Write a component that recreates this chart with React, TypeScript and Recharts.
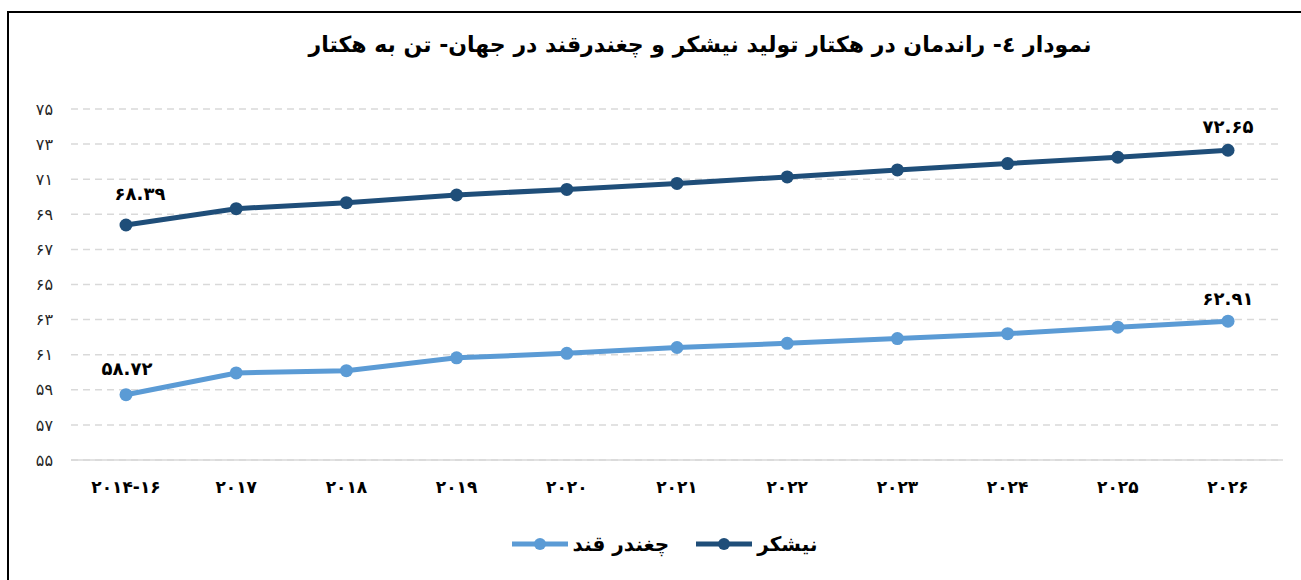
import React from 'react';
import { LineChart, Line, XAxis, YAxis, CartesianGrid, LabelList } from 'recharts';

const categories = ['2014-16', '2017', '2018', '2019', '2020', '2021', '2022', '2023', '2024', '2025', '2026'];
const sugarcane = [68.39, 69.32, 69.66, 70.1, 70.42, 70.76, 71.13, 71.53, 71.89, 72.25, 72.65];
const sugarbeet = [58.72, 59.96, 60.09, 60.82, 61.08, 61.41, 61.65, 61.92, 62.2, 62.57, 62.91];
const yTicks = [55, 57, 59, 61, 63, 65, 67, 69, 71, 73, 75];
const seriesNames = { cane: 'نیشکر', beet: 'چغندر قند' };
const title = 'نمودار ٤- راندمان در هکتار تولید نیشکر و چغندرقند در جهان- تن به هکتار';

const data = categories.map((c, i) => ({ cat: c, cane: sugarcane[i], beet: sugarbeet[i] }));

const FA = '۰۱۲۳۴۵۶۷۸۹';
const toFa = (v: string | number) => String(v).replace(/[0-9]/g, (d) => FA[Number(d)]);

const DARK = '#1f4e79';
const LIGHT = '#5b9bd5';
const FONT = 'DejaVu Sans';

const makeLabel = (dxFirst: number, dyFirst: number, dyLast: number) => (props: any) => {
  const { x, y, value, index } = props;
  const last = categories.length - 1;
  if (index !== 0 && index !== last) return null;
  const dx = index === 0 ? dxFirst : 0;
  const dy = index === 0 ? dyFirst : dyLast;
  return (
    <text x={x + dx} y={y + dy} textAnchor="middle" fontFamily={FONT} fontWeight="bold" fontSize={18} fill="#000" direction="ltr">
      {toFa(value.toFixed(2))}
    </text>
  );
};

const LegendItem = ({ color, name }: { color: string; name: string }) => (
  <div style={{ display: 'flex', alignItems: 'center', gap: 5 }}>
    <svg width={56} height={14}>
      <line x1={0} y1={7} x2={56} y2={7} stroke={color} strokeWidth={5} />
      <circle cx={28} cy={7} r={6} fill={color} />
    </svg>
    <span style={{ fontFamily: FONT, fontWeight: 'bold', fontSize: 20, color: '#000', lineHeight: '26px' }}>{name}</span>
  </div>
);

export default function App() {
  return (
    <div style={{ position: 'absolute', left: 0, top: 0, width: 1301, height: 580, background: '#fff', overflow: 'hidden' }}>
      <div style={{ position: 'absolute', left: 7, top: 11, width: 1400, height: 700, borderLeft: '2px solid #000', borderTop: '2px solid #000' }} />
      <div style={{ position: 'absolute', left: 200, width: 1000, top: 28, textAlign: 'center', direction: 'rtl', fontFamily: FONT, fontWeight: 'bold', fontSize: 22, color: '#000', lineHeight: '34px' }}>
        {title}
      </div>
      <div style={{ position: 'absolute', left: 0, top: 0 }}>
        <LineChart width={1301} height={580} data={data} margin={{ top: 109, right: 18, left: 11, bottom: 90 }}>
          <CartesianGrid horizontal vertical={false} stroke="#d9d9d9" strokeWidth={1.5} strokeDasharray="7 5" />
          <XAxis
            dataKey="cat"
            height={30}
            padding={{ left: 55, right: 55 }}
            tickLine={false}
            tickSize={0}
            tickMargin={21}
            axisLine={{ stroke: '#d9d9d9', strokeWidth: 1.5 }}
            tickFormatter={(v) => toFa(v)}
            tick={{ fontFamily: FONT, fontWeight: 'bold', fontSize: 17, fill: '#000' }}
            interval={0}
          />
          <YAxis
            width={60}
            domain={[55, 75]}
            ticks={yTicks}
            axisLine={false}
            tickLine={false}
            tickSize={0}
            tickMargin={18}
            tickFormatter={(v) => toFa(v)}
            tick={{ fontFamily: FONT, fontSize: 16, fill: '#262626' }}
          />
          <Line dataKey="cane" name={seriesNames.cane} stroke={DARK} strokeWidth={5} dot={{ r: 6.5, fill: DARK, stroke: DARK, strokeWidth: 0 }} isAnimationActive={false}>
            <LabelList dataKey="cane" content={makeLabel(14, -25, -17)} />
          </Line>
          <Line dataKey="beet" name={seriesNames.beet} stroke={LIGHT} strokeWidth={5} dot={{ r: 6.5, fill: LIGHT, stroke: LIGHT, strokeWidth: 0 }} isAnimationActive={false}>
            <LabelList dataKey="beet" content={makeLabel(1, -20, -16)} />
          </Line>
        </LineChart>
      </div>
      <div style={{ position: 'absolute', left: 0, width: 1301, top: 531, display: 'flex', justifyContent: 'center', gap: 27, direction: 'ltr', paddingLeft: 28, boxSizing: 'border-box' }}>
        <LegendItem color={LIGHT} name={seriesNames.beet} />
        <LegendItem color={DARK} name={seriesNames.cane} />
      </div>
    </div>
  );
}
